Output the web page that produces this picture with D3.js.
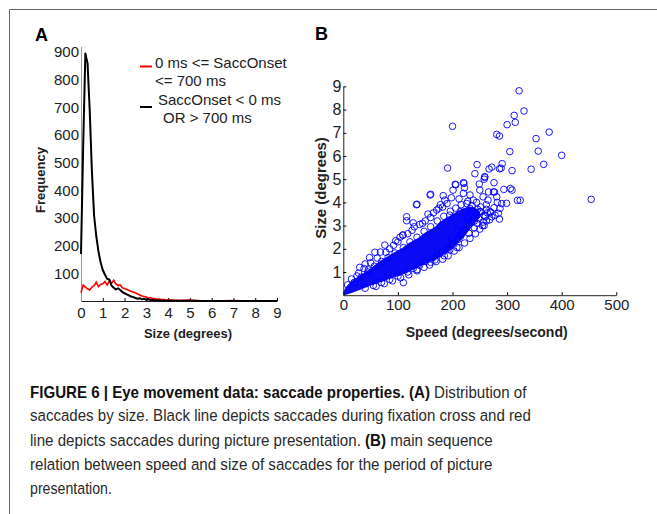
<!DOCTYPE html>
<html>
<head>
<meta charset="utf-8">
<script src="https://cdn.jsdelivr.net/npm/d3@7"></script>
<style>
  body { margin: 0; background: #fff; }
  text { font-family: 'Liberation Sans', Arial, sans-serif; }
</style>
</head>
<body>
<script>
// ---- data: panel A (saccade size histogram) ----
const sizeBins = [0, 0.1, 0.2, 0.3, 0.4, 0.5, 0.6, 0.7, 0.8, 0.9,
    1.0, 1.1, 1.2, 1.3, 1.4, 1.5, 1.6, 1.7, 1.8, 1.9,
    2.0, 2.1, 2.2, 2.3, 2.4, 2.5, 2.6, 2.7, 2.8, 2.9,
    3.0, 3.1, 3.2, 3.3, 3.4, 3.5, 3.6, 3.7, 3.8, 3.9,
    4.0, 4.5, 5.0, 5.5, 6.0, 6.5, 7.0, 7.5, 8.0, 8.5, 9.0];
// black: SaccOnset < 0 ms OR > 700 ms
const countsFixation = [170, 560, 895, 860, 690, 470, 310, 235, 180, 140,
    112, 95, 80, 78, 56, 48, 42, 46, 40, 32,
    28, 24, 20, 16, 14, 11, 8, 10, 6, 8,
    4, 6, 3, 4, 2, 3, 2, 1, 2, 1,
    1, 1, 1, 0, 0, 0, 0, 0, 0, 0, 0];
// red: 0 ms <= SaccOnset <= 700 ms
const countsPicture = [30, 58, 50, 44, 40, 50, 55, 68, 52, 60,
    62, 70, 58, 72, 64, 75, 62, 56, 58, 48,
    45, 42, 38, 35, 32, 30, 25, 22, 18, 16,
    14, 10, 12, 8, 9, 6, 7, 5, 5, 3,
    4, 2, 3, 1, 1, 1, 2, 0, 1, 1, 0];
const freqTicks = [100, 200, 300, 400, 500, 600, 700, 800, 900];
const sizeTicks = [0, 1, 2, 3, 4, 5, 6, 7, 8, 9];

// ---- data: panel B (main sequence) ----
// saturated core of the cloud: speed with lower / upper size edge
const coreSpeed = [0, 5, 15, 30, 46, 60, 76, 90, 107, 120, 137, 150, 168, 177, 190, 208, 220, 238, 250];
const coreLow = [0, 0.02, 0.1, 0.22, 0.37, 0.5, 0.62, 0.75, 0.87, 1.0, 1.2, 1.35, 1.52, 1.66, 1.85, 2.2, 2.5, 3.0, 3.35];
const coreHigh = [0.12, 0.35, 0.6, 0.85, 1.09, 1.35, 1.6, 1.8, 2.02, 2.25, 2.47, 2.7, 2.95, 3.15, 3.35, 3.6, 3.75, 3.8, 3.6];
// individual saccades [speed, size]
const saccades = [
    [322, 8.81], [331, 7.94], [313, 7.75], [315, 7.45], [300, 7.35], [200, 7.28], [377, 7.03],
    [281, 6.93], [286, 6.86], [353, 6.75], [357, 6.21], [305, 6.19], [400, 6.03], [367, 5.64],
    [344, 5.43], [309, 5.37], [191, 5.48], [245, 5.63], [291, 5.67], [286, 5.45], [289, 5.47],
    [272, 5.52], [267, 5.44], [241, 5.24], [259, 5.08], [258, 5.0], [276, 4.85], [220, 4.85],
    [222, 4.63], [205, 4.78], [454, 4.13], [319, 4.09], [324, 4.09], [299, 3.96], [294, 4.56],
    [306, 4.6], [309, 4.53], [183, 4.29], [159, 4.32], [249, 4.79], [277, 4.45], [259, 5.11],
    [134, 3.9], [206, 4.76], [221, 4.82], [286, 3.28], [116, 3.38], [116, 3.21], [128, 3.12],
    [109, 2.58], [165, 1.63], [168, 1.52], [208, 2.06], [110, 0.54], [76, 2.16], [58, 1.85],
    [48, 1.62], [68, 1.86], [25, 0.83], [46, 1.09], [135, 3.92], [160, 4.35], [109, 2.6],
    [171, 3.67], [186, 4.1], [201, 4.53], [220, 4.39], [232, 4.32], [238, 4.1], [250, 4.53],
    [256, 4.24], [266, 4.45], [275, 4.45], [281, 4.24], [287, 3.74], [269, 3.6], [250, 3.6],
    [232, 3.74], [214, 3.6], [195, 3.45], [260, 3.38], [278, 3.45], [226, 3.38], [272, 3.38],
    [270, 3.57], [284, 3.53], [276, 3.77], [218, 2.67], [230, 2.67], [245, 3.1], [255, 3.0],
    [262, 3.2], [240, 2.9], [252, 3.8], [244, 4.0], [262, 3.9], [228, 4.05], [212, 4.15],
    [198, 4.2], [190, 3.95], [178, 3.9], [245, 3.45], [235, 3.2], [290, 3.95], [282, 4.0],
    [265, 4.1], [225, 2.9], [210, 2.4], [200, 2.2], [190, 2.0], [180, 1.85], [172, 1.75],
    [150, 1.45], [140, 1.3], [128, 1.15], [118, 1.0], [100, 0.82], [85, 0.68], [70, 0.55],
    [55, 0.42], [40, 0.3], [150, 3.2], [140, 3.05], [126, 2.8], [118, 2.65], [100, 2.3],
    [92, 2.15], [85, 2.0], [78, 1.85], [62, 1.6], [50, 1.4], [38, 1.15], [28, 0.95],
    [15, 0.7], [8, 0.45], [160, 3.35], [165, 3.55], [145, 3.1], [175, 3.75], [182, 3.8],
    [155, 3.5], [30, 1.2], [40, 1.35], [96, 2.35], [104, 2.5], [130, 2.95], [198, 2.45],
    [215, 2.55], [185, 1.7], [195, 1.95], [160, 1.42], [135, 1.1], [210, 2.8],
    // along the lower edge of the dense band
    [60, 0.38], [75, 0.5], [90, 0.62], [105, 0.75], [120, 0.88], [135, 1.05], [148, 1.2],
    [158, 1.3], [170, 1.45], [182, 1.55], [192, 1.7], [203, 1.9], [212, 2.05], [222, 2.25],
    [232, 2.45], [242, 2.65], [250, 2.85], [258, 3.0],
    // along the upper edge of the dense band
    [20, 0.55], [33, 0.78], [45, 1.0], [57, 1.25], [70, 1.45], [82, 1.62], [95, 1.82],
    [110, 2.05], [122, 2.3], [135, 2.5], [148, 2.75], [160, 2.95], [172, 3.2], [184, 3.4],
    [196, 3.62], [206, 3.75], [216, 3.9], [226, 3.95], [236, 3.85],
    // right end of the band
    [242, 3.5], [248, 3.3], [252, 3.6], [258, 3.45], [246, 3.7], [256, 3.15], [264, 3.55],
    [240, 3.2], [234, 3.55], [228, 3.3], [268, 3.25], [262, 3.7]
];
const speedTicks = [0, 100, 200, 300, 400, 500];
const sizeTicksB = [1, 2, 3, 4, 5, 6, 7, 8, 9];

// caption lines: [bold part, regular part, target width]
const captionLines = [
    ['FIGURE 6 | Eye movement data: saccade properties. (A)', ' Distribution of', 497],
    ['', 'saccades by size. Black line depicts saccades during fixation cross and red', 501],
    ['', 'line depicts saccades during picture presentation. ', 463],
    ['', 'relation between speed and size of saccades for the period of picture', 463],
    ['', 'presentation.', 82]
];

const svg = d3.select('body')
    .append('svg')
    .attr('width', 657)
    .attr('height', 514);

// page frame
svg.append('path')
    .attr('d', 'M657,9.5H9.5V514')
    .attr('fill', 'none')
    .attr('stroke', '#666');

// ================= panel A =================
const xA = d3.scaleLinear().domain([0, 9]).range([81, 277]);
const yA = d3.scaleLinear().domain([0, 920]).range([301, 46.5]);

const gA = svg.append('g');

const xAxisA = gA.append('g')
    .attr('transform', 'translate(0, 301)')
    .call(d3.axisBottom(xA).tickValues(sizeTicks).tickSizeInner(-3).tickSizeOuter(0).tickPadding(6));
const yAxisA = gA.append('g')
    .attr('transform', 'translate(81, 0)')
    .call(d3.axisLeft(yA).tickValues(freqTicks).tickSize(0).tickPadding(2));

[xAxisA, yAxisA].forEach(ax => {
    ax.selectAll('text').attr('font-size', 15).attr('fill', '#222').attr('font-family', 'Liberation Sans, Arial, sans-serif');
});
xAxisA.select('.domain').attr('stroke', '#222');
yAxisA.select('.domain').attr('stroke', '#999');

const lineA = d3.line()
    .x((d, i) => xA(sizeBins[i]))
    .y(d => yA(d));

gA.append('path')
    .datum(countsPicture)
    .attr('d', lineA)
    .attr('fill', 'none')
    .attr('stroke', '#ff0000')
    .attr('stroke-width', 1.6);

gA.append('path')
    .datum(countsFixation)
    .attr('d', lineA)
    .attr('fill', 'none')
    .attr('stroke', '#000')
    .attr('stroke-width', 2)
    .attr('stroke-linejoin', 'round');

// legend
const legend = gA.append('g').attr('font-size', 15).attr('fill', '#222');
legend.append('line').attr('x1', 140).attr('x2', 152).attr('y1', 66.5).attr('y2', 66.5)
    .attr('stroke', '#ff0000').attr('stroke-width', 2);
legend.append('text').attr('x', 155).attr('y', 68).text('0 ms <= SaccOnset');
legend.append('text').attr('x', 155).attr('y', 86).text('<= 700 ms');
legend.append('line').attr('x1', 140).attr('x2', 152).attr('y1', 107).attr('y2', 107)
    .attr('stroke', '#000').attr('stroke-width', 2);
legend.append('text').attr('x', 158).attr('y', 105).text('SaccOnset < 0 ms');
legend.append('text').attr('x', 163).attr('y', 123).text('OR > 700 ms');

gA.append('text').attr('x', 35).attr('y', 41)
    .attr('font-size', 18).attr('font-weight', 'bold').text('A');
gA.append('text')
    .attr('transform', 'translate(44.5, 180) rotate(-90)')
    .attr('text-anchor', 'middle')
    .attr('font-size', 13).attr('font-weight', 'bold').attr('fill', '#222')
    .text('Frequency');
gA.append('text').attr('x', 188).attr('y', 337.5)
    .attr('text-anchor', 'middle')
    .attr('font-size', 13).attr('font-weight', 'bold').attr('fill', '#222')
    .text('Size (degrees)');

// ================= panel B =================
const xB = d3.scaleLinear().domain([0, 500]).range([343.3, 616.3]);
const yB = d3.scaleLinear().domain([0, 9]).range([295.2, 86.4]);

const gB = svg.append('g');

const area = d3.area()
    .x((d, i) => xB(coreSpeed[i]))
    .y0((d, i) => yB(coreLow[i]))
    .y1((d, i) => yB(coreHigh[i]))
    .curve(d3.curveCatmullRom);

gB.append('path')
    .datum(coreSpeed)
    .attr('d', area)
    .attr('fill', '#0a0af5');

gB.selectAll('circle')
    .data(saccades)
    .enter()
    .append('circle')
    .attr('cx', d => xB(d[0]))
    .attr('cy', d => yB(d[1]))
    .attr('r', 3.3)
    .attr('fill', 'none')
    .attr('stroke', '#0000ff')
    .attr('stroke-width', 0.9);

const xAxisB = gB.append('g')
    .attr('transform', 'translate(0, 295.2)')
    .call(d3.axisBottom(xB).tickValues(speedTicks).tickSizeInner(-3).tickSizeOuter(0).tickPadding(4));
const yAxisB = gB.append('g')
    .attr('transform', 'translate(343.3, 0)')
    .call(d3.axisLeft(yB).tickValues(sizeTicksB).tickSizeInner(-3).tickSizeOuter(0).tickPadding(2));

xAxisB.selectAll('text').attr('font-size', 15);
yAxisB.selectAll('text').attr('font-size', 16);
[xAxisB, yAxisB].forEach(ax => {
    ax.selectAll('text').attr('fill', '#222').attr('font-family', 'Liberation Sans, Arial, sans-serif');
    ax.select('.domain').attr('stroke', '#222');
});

gB.append('text').attr('x', 315).attr('y', 40)
    .attr('font-size', 18).attr('font-weight', 'bold').text('B');
gB.append('text')
    .attr('transform', 'translate(326, 188) rotate(-90)')
    .attr('text-anchor', 'middle')
    .attr('font-size', 15).attr('font-weight', 'bold').attr('fill', '#222')
    .text('Size (degrees)');
gB.append('text').attr('x', 486.7).attr('y', 336.5)
    .attr('text-anchor', 'middle')
    .attr('font-size', 14).attr('font-weight', 'bold').attr('fill', '#222')
    .text('Speed (degrees/second)');

// ================= caption =================
const cap = svg.append('g').attr('font-size', 16.5);
const baselines = [398.3, 421, 445.5, 470, 494.3];

captionLines.forEach((ln, i) => {
    const t = cap.append('text').attr('fill', '#2a2a2a');
    if (i === 0) {
        t.append('tspan').attr('font-weight', 'bold').attr('fill', '#111').text(ln[0]);
        t.append('tspan').text(ln[1]);
    } else if (i === 2) {
        t.append('tspan').text(ln[1]);
        t.append('tspan').attr('font-weight', 'bold').attr('fill', '#111').text('(B)');
        t.append('tspan').text(' main sequence');
    } else {
        t.append('tspan').text(ln[1]);
    }
    const w = t.node().getComputedTextLength();
    t.attr('transform', `translate(30, ${baselines[i]}) scale(${ln[2] / w}, 1)`);
});
</script>
</body>
</html>
